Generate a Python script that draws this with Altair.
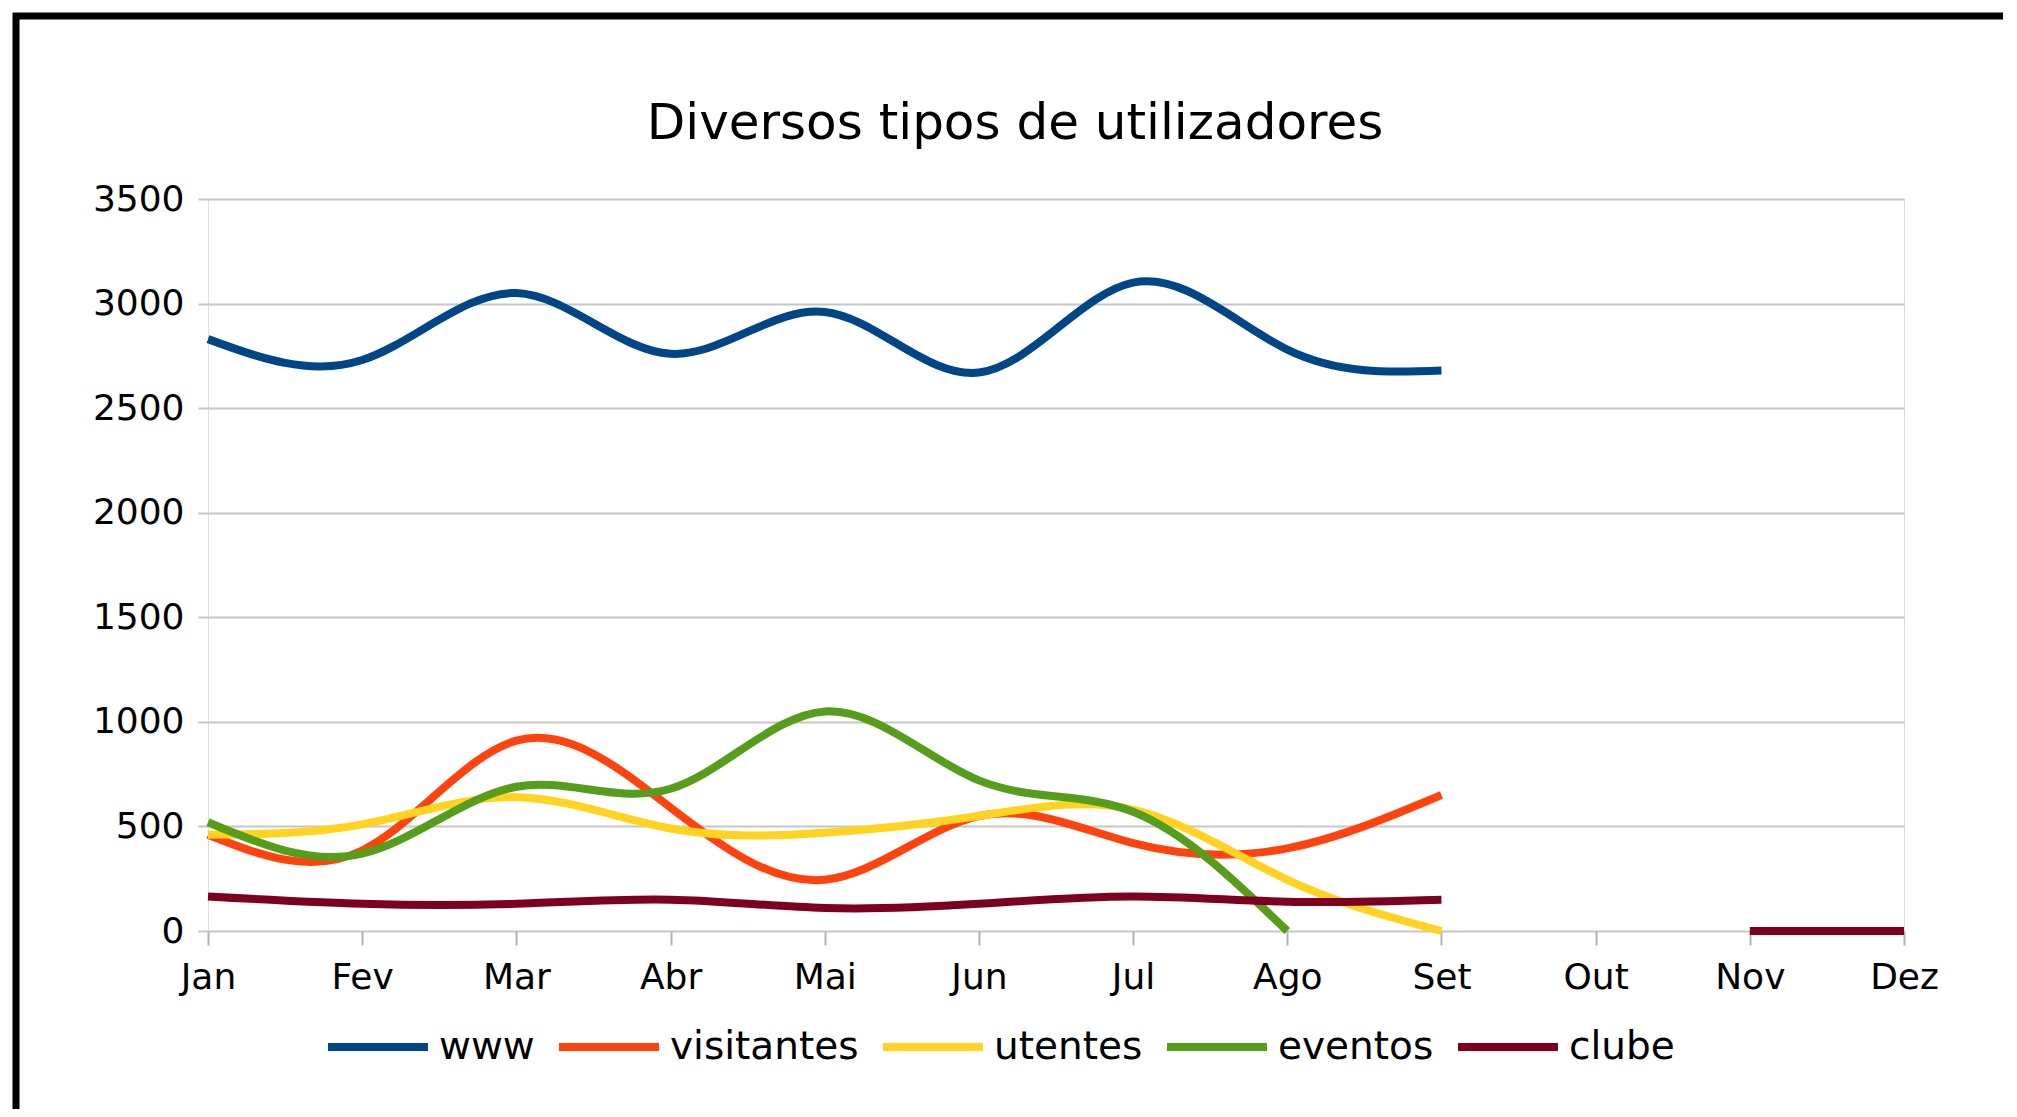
import altair as alt
import pandas as pd

months = ["Jan", "Fev", "Mar", "Abr", "Mai", "Jun", "Jul", "Ago", "Set", "Out", "Nov", "Dez"]
series_names = ["www", "visitantes", "utentes", "eventos", "clube"]
www = [2830, 2730, 3050, 2760, 2960, 2670, 3100, 2780, 2680, None, None, None]
visitantes = [460, 385, 910, 590, 245, 550, 420, 395, 650, None, None, None]
utentes = [460, 510, 640, 490, 470, 550, 580, 245, 0, None, None, None]
eventos = [520, 370, 690, 680, 1050, 720, 570, 0, None, None, None, None]
clube = [165, 130, 130, 150, 110, 130, 165, 140, 150, None, 0, 0]
colors = ["#004586", "#ff420e", "#ffd320", "#579d1c", "#7e0021"]
y_ticks = [0, 500, 1000, 1500, 2000, 2500, 3000, 3500]
title_text = "Diversos tipos de utilizadores"

FONT = "DejaVu Sans"

rows = []
for name, vals in zip(series_names, [www, visitantes, utentes, eventos, clube]):
    seg = 0
    for m, v in zip(months, vals):
        if v is None:
            seg += 1
            continue
        rows.append({"series": name, "month": m, "value": v, "seg": f"{name}-{seg}"})
df = pd.DataFrame(rows)

W, H = 1696, 732

lines = alt.Chart(df).mark_line(interpolate="natural", strokeWidth=8, strokeCap="butt").encode(
    x=alt.X("month:O", sort=months,
            scale=alt.Scale(domain=months, padding=0),
            axis=alt.Axis(title=None, labelAngle=0, domain=False, grid=False,
                          ticks=True, tickColor="#b3b3b3", tickSize=14, tickWidth=2,
                          labelFont=FONT, labelFontSize=36, labelColor="black",
                          labelPadding=15)),
    y=alt.Y("value:Q",
            scale=alt.Scale(domain=[0, 3500], nice=False),
            axis=alt.Axis(title=None, values=y_ticks, format="d", domain=False, grid=True,
                          gridColor="#c6c6c6", gridWidth=2,
                          ticks=True, tickColor="#c6c6c6", tickSize=10, tickWidth=2,
                          labelFont=FONT, labelFontSize=36, labelColor="black",
                          labelPadding=14)),
    color=alt.Color("series:N",
                    scale=alt.Scale(domain=series_names, range=colors),
                    legend=alt.Legend(title=None, orient="none", legendX=116, legendY=794,
                                      direction="horizontal", symbolType="stroke",
                                      symbolSize=10000, symbolStrokeWidth=8,
                                      labelFont=FONT, labelFontSize=39, labelColor="black",
                                      labelLimit=500,
                                      labelOffset=7, columnPadding=8, padding=0)),
    detail="seg:N",
)

frame_df = pd.DataFrame({"k": [0]})
left_border = alt.Chart(frame_df).mark_rule(color="black", strokeWidth=7).encode(
    x=alt.value(-192), y=alt.value(-186), y2=alt.value(912))
top_border = alt.Chart(frame_df).mark_rule(color="black", strokeWidth=7).encode(
    x=alt.value(-195), x2=alt.value(1795), y=alt.value(-183))

title_df = pd.DataFrame({"t": [title_text]})
title_mark = alt.Chart(title_df).mark_text(
    font=FONT, fontSize=50, color="black", align="center", baseline="alphabetic"
).encode(text="t:N", x=alt.value(807), y=alt.value(-60))

chart = alt.layer(left_border, top_border, title_mark, lines).properties(
    width=W, height=H,
    autosize=alt.AutoSizeParams(type="none"),
    padding={"left": 200, "top": 191, "right": 100, "bottom": 178},
).configure_view(stroke="#c6c6c6", strokeWidth=2).configure(background="white")

chart.save("out.html", embed_options={"renderer": "svg", "actions": False})
